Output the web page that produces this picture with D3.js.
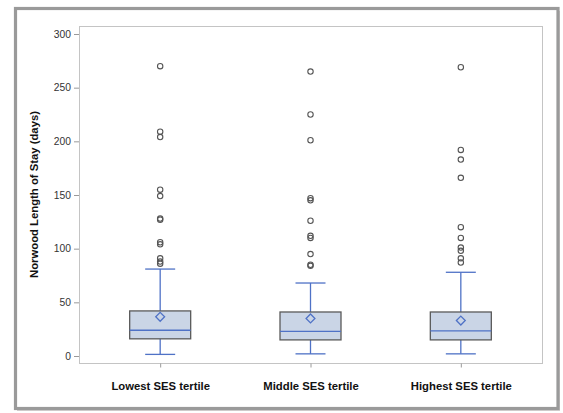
<!DOCTYPE html>
<html>
<head>
<meta charset="utf-8">
<script src="https://cdn.jsdelivr.net/npm/d3@7"></script>
<style>
  body { margin: 0; background: #fff; }
  svg { display: block; font-family: "Liberation Sans", Arial, sans-serif; }
</style>
</head>
<body>
<script>
// categories and box statistics (days)
const categories = ['Lowest SES tertile', 'Middle SES tertile', 'Highest SES tertile'];
const whiskerLow = [1.5, 2, 2];
const q1 = [16, 15, 15];
const median = [24, 23, 23.5];
const q3 = [42, 41, 41];
const whiskerHigh = [81, 68, 78];
const means = [36.5, 35, 33];
const outliersLowest = [270, 209, 204, 155, 149, 128, 127, 106, 104, 91, 88, 86];
const outliersMiddle = [265, 225, 201, 147, 145, 126, 112, 110, 95, 85, 84];
const outliersHighest = [269, 192, 183, 166, 120, 110, 101, 98, 91, 87];
const yTicks = [0, 50, 100, 150, 200, 250, 300];

const W = 563, H = 413;
const plot = {left: 79, right: 542, top: 26, bottom: 363};

const svg = d3.select('body').append('svg')
  .attr('width', W).attr('height', H);

// frame with shadow
svg.append('rect').attr('x', 17).attr('y', 11).attr('width', 543).attr('height', 400)
  .attr('fill', '#d4d0d0');
svg.append('rect').attr('x', 15.5).attr('y', 8.5).attr('width', 542.5).attr('height', 400)
  .attr('fill', '#fff').attr('stroke', '#9a9a9a').attr('stroke-width', 3.2);

const x = d3.scalePoint()
  .domain(categories)
  .range([plot.left, plot.right])
  .padding(0.54);

const y = d3.scaleLinear()
  .domain([0, 300])
  .range([356, 34]);

// plot area border
svg.append('rect')
  .attr('x', plot.left + 0.5).attr('y', plot.top + 0.5)
  .attr('width', plot.right - plot.left).attr('height', plot.bottom - plot.top)
  .attr('fill', 'none').attr('stroke', '#c4c4c4').attr('stroke-width', 1);

// y axis
const yAxis = svg.append('g')
  .attr('transform', `translate(${plot.left}, 0)`)
  .call(d3.axisLeft(y).tickValues(yTicks).tickSize(5).tickPadding(3));
yAxis.select('.domain').remove();
yAxis.selectAll('line').attr('stroke', '#9a9a9a');
yAxis.selectAll('text').attr('fill', '#333').style('font-size', '10.3px')
  .style('font-family', '"Liberation Sans", Arial, sans-serif');

// x axis
const xAxis = svg.append('g')
  .attr('transform', `translate(0, ${plot.bottom + 0.5})`)
  .call(d3.axisBottom(x).tickSize(4).tickPadding(14));
xAxis.select('.domain').remove();
xAxis.selectAll('line').attr('stroke', '#9a9a9a');
xAxis.selectAll('text').attr('fill', '#111').style('font-size', '11.3px')
  .style('font-weight', 'bold')
  .style('font-family', '"Liberation Sans", Arial, sans-serif');

// y title
svg.append('text')
  .attr('transform', `translate(38, ${(plot.top + plot.bottom) / 2}) rotate(-90)`)
  .attr('text-anchor', 'middle')
  .attr('fill', '#111')
  .style('font-size', '11.3px')
  .style('font-weight', 'bold')
  .text('Norwood Length of Stay (days)');

const blue = '#4f72c6';
const boxW = 61, capW = 30;
const outliers = [outliersLowest, outliersMiddle, outliersHighest];

categories.forEach((c, i) => {
  const cx = x(c);
  const g = svg.append('g');
  // whiskers
  g.append('line').attr('x1', cx).attr('x2', cx)
    .attr('y1', y(q3[i])).attr('y2', y(whiskerHigh[i]))
    .attr('stroke', blue).attr('stroke-width', 1.3);
  g.append('line').attr('x1', cx).attr('x2', cx)
    .attr('y1', y(q1[i])).attr('y2', y(whiskerLow[i]))
    .attr('stroke', blue).attr('stroke-width', 1.3);
  [whiskerHigh[i], whiskerLow[i]].forEach(v => {
    g.append('line').attr('x1', cx - capW / 2).attr('x2', cx + capW / 2)
      .attr('y1', y(v)).attr('y2', y(v))
      .attr('stroke', blue).attr('stroke-width', 1.3);
  });
  // box
  g.append('rect')
    .attr('x', cx - boxW / 2).attr('y', y(q3[i]))
    .attr('width', boxW).attr('height', y(q1[i]) - y(q3[i]))
    .attr('fill', '#cad5e6').attr('stroke', '#5a5a5a').attr('stroke-width', 1.3);
  // median
  g.append('line').attr('x1', cx - boxW / 2).attr('x2', cx + boxW / 2)
    .attr('y1', y(median[i])).attr('y2', y(median[i]))
    .attr('stroke', blue).attr('stroke-width', 1.3);
  // mean
  g.append('path')
    .attr('transform', `translate(${cx}, ${y(means[i])})`)
    .attr('d', d3.symbol(d3.symbolDiamond2, 50)())
    .attr('fill', 'none').attr('stroke', blue).attr('stroke-width', 1.3);
  // outliers
  g.selectAll('circle.out').data(outliers[i]).enter()
    .append('circle').attr('class', 'out')
    .attr('cx', cx).attr('cy', d => y(d)).attr('r', 2.7)
    .attr('fill', 'none').attr('stroke', '#555').attr('stroke-width', 1.1);
});
</script>
</body>
</html>
